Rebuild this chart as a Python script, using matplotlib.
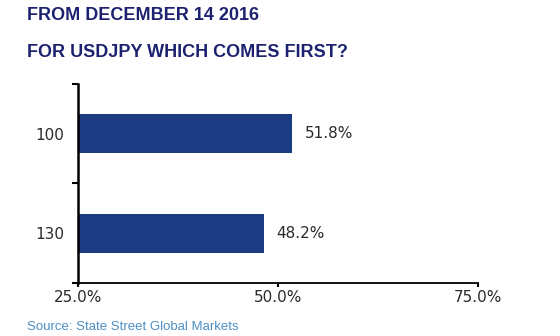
import matplotlib.pyplot as plt

# outcome levels and their probabilities (%)
levels = ['100', '130']
shares = [51.8, 48.2]
xticks = [25.0, 50.0, 75.0]

bar_color = '#1b3c82'
title_color = '#1c2270'
source_color = '#4d8ec4'


def main():
    fig = plt.figure(figsize=(5.6, 3.36), dpi=100)
    ax = fig.add_axes([0.139, 0.158, 0.715, 0.592])

    pos = list(range(len(levels)))
    ax.barh(pos, shares, height=0.39, left=0, color=bar_color)
    ax.set_xlim(25, 75)
    ax.set_ylim(1.5, -0.5)

    for p, v in zip(pos, shares):
        ax.text(v + 1.6, p, '%.1f%%' % v, va='center', ha='left',
                fontsize=11, color='#2a2a2a')

    ax.set_xticks(xticks)
    ax.set_xticklabels(['%.1f%%' % t for t in xticks])
    ax.set_yticks([-0.5, 0.5, 1.5])
    ax.set_yticklabels([])
    ax.set_yticks(pos, minor=True)
    ax.set_yticklabels(levels, minor=True)
    ax.tick_params(axis='y', which='minor', length=0, pad=10,
                   labelsize=11, labelcolor='#2a2a2a')
    ax.tick_params(axis='y', which='major', length=4, width=1.5)
    ax.tick_params(axis='x', length=3, width=1.5, pad=2,
                   labelsize=11, labelcolor='#2a2a2a')

    for side in ['top', 'right']:
        ax.spines[side].set_visible(False)
    ax.spines['left'].set_linewidth(1.8)
    ax.spines['bottom'].set_linewidth(1.3)

    fig.text(0.048, 0.955, 'FROM DECEMBER 14 2016', fontsize=13,
             fontweight='bold', color=title_color, va='center',
             family='Liberation Sans')
    fig.text(0.048, 0.843, 'FOR USDJPY WHICH COMES FIRST?', fontsize=13,
             fontweight='bold', color=title_color, va='center',
             family='Liberation Sans')
    fig.text(0.048, 0.028, 'Source: State Street Global Markets', fontsize=9.5,
             color=source_color, va='center', family='Liberation Sans')

    fig.savefig('out.png', dpi=100)


if __name__ == '__main__':
    main()
